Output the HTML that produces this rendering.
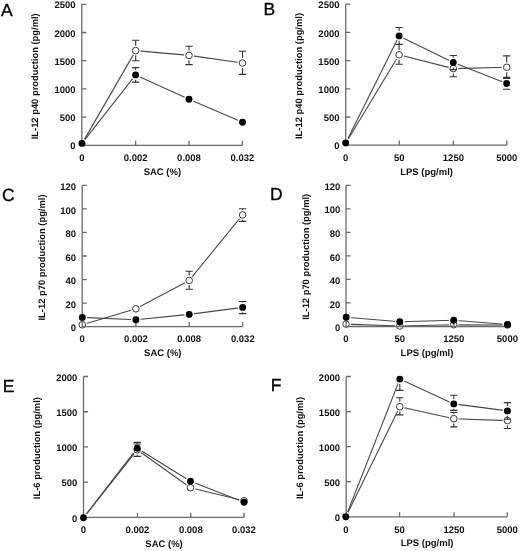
<!DOCTYPE html>
<html><head><meta charset="utf-8"><title>Figure</title>
<style>
html,body{margin:0;padding:0;background:#fff;}
body{width:520px;height:551px;overflow:hidden;}
svg{display:block;text-rendering:geometricPrecision;will-change:transform;}
.ax{fill:none;stroke:#6a6a6a;stroke-width:1.3;}
.ln{fill:none;stroke:#484848;stroke-width:1.1;stroke-linejoin:round;}
.eb{fill:none;stroke:#333;stroke-width:1.1;}
.halo{fill:#fff;stroke:none;}
.op{fill:#fff;stroke:#383838;stroke-width:1.0;}
.fi{fill:#000;stroke:none;}
.tl{font-family:"Liberation Sans",sans-serif;font-weight:bold;font-size:9.5px;fill:#111;}
.yt{font-family:"Liberation Sans",sans-serif;font-weight:bold;font-size:9.4px;fill:#111;}
.pl{font-family:"Liberation Sans",sans-serif;font-size:17.5px;fill:#000;stroke:#000;stroke-width:0.35px;}
</style></head>
<body>
<svg width="520" height="551" viewBox="0 0 520 551">
<g>
<text x="75.6" y="149.4" class="tl" text-anchor="end">0</text>
<text x="75.6" y="121.2" class="tl" text-anchor="end">500</text>
<text x="75.6" y="93" class="tl" text-anchor="end">1000</text>
<text x="75.6" y="64.8" class="tl" text-anchor="end">1500</text>
<text x="75.6" y="36.6" class="tl" text-anchor="end">2000</text>
<text x="75.6" y="8.4" class="tl" text-anchor="end">2500</text>
<text x="81.8" y="161" class="tl" text-anchor="middle">0</text>
<text x="135.6" y="161" class="tl" text-anchor="middle">0.002</text>
<text x="189" y="161" class="tl" text-anchor="middle">0.008</text>
<text x="242.4" y="161" class="tl" text-anchor="middle">0.032</text>
<text x="162.4" y="174.9" class="tl" text-anchor="middle">SAC (%)</text>
<text transform="translate(37.7 76.3) rotate(-90)" class="yt" text-anchor="middle">IL-12 p40 production (pg/ml)</text>
<text x="1" y="15.6" class="pl">A</text>
<path d="M82 143.6 L135.7 50.6 L189 55.4 L242.5 63" class="ln"/>
<path d="M82 143.4 L135.6 74.9 L189 99.3 L242.5 122.3" class="ln"/>
<circle cx="82" cy="143.6" r="4.9" class="halo"/>
<circle cx="135.7" cy="50.6" r="4.9" class="halo"/>
<circle cx="189" cy="55.4" r="4.9" class="halo"/>
<circle cx="242.5" cy="63" r="4.9" class="halo"/>
<circle cx="82" cy="143.4" r="4.9" class="halo"/>
<circle cx="135.6" cy="74.9" r="4.9" class="halo"/>
<circle cx="189" cy="99.3" r="4.9" class="halo"/>
<circle cx="242.5" cy="122.3" r="4.9" class="halo"/>
<circle cx="135.7" cy="50.6" r="3.3" class="op"/>
<circle cx="189" cy="55.4" r="3.3" class="op"/>
<circle cx="242.5" cy="63" r="3.3" class="op"/>
<path d="M81.8 4.3V145.3H242.4" class="ax"/>
<path d="M81.8 117.1h4.6M81.8 88.9h4.6M81.8 60.7h4.6M81.8 32.5h4.6M81.8 4.3h4.6M135.6 145.3v-4.6M189 145.3v-4.6M242.4 145.3v-4.6" class="ax"/>
<path d="M135.7 40.2V45.7M135.7 55.5V60.7M132.05 40.2h7.3M132.05 60.7h7.3M189 46.2V50.5M189 60.3V64.6M185.35 46.2h7.3M185.35 64.6h7.3M242.5 51.3V58.1M242.5 67.9V74.4M238.85 51.3h7.3M238.85 74.4h7.3M135.6 67.6V70M135.6 79.8V82.1M131.95 67.6h7.3M131.95 82.1h7.3" class="eb"/>
<circle cx="82" cy="143.4" r="3.45" class="fi"/>
<circle cx="135.6" cy="74.9" r="3.45" class="fi"/>
<circle cx="189" cy="99.3" r="3.45" class="fi"/>
<circle cx="242.5" cy="122.3" r="3.45" class="fi"/>
</g>
<g>
<text x="339.5" y="149.3" class="tl" text-anchor="end">0</text>
<text x="339.5" y="121.1" class="tl" text-anchor="end">500</text>
<text x="339.5" y="92.9" class="tl" text-anchor="end">1000</text>
<text x="339.5" y="64.7" class="tl" text-anchor="end">1500</text>
<text x="339.5" y="36.5" class="tl" text-anchor="end">2000</text>
<text x="339.5" y="8.3" class="tl" text-anchor="end">2500</text>
<text x="345.7" y="160.9" class="tl" text-anchor="middle">0</text>
<text x="399.3" y="160.9" class="tl" text-anchor="middle">50</text>
<text x="453.4" y="160.9" class="tl" text-anchor="middle">1250</text>
<text x="506.8" y="160.9" class="tl" text-anchor="middle">5000</text>
<text x="426.55" y="174.8" class="tl" text-anchor="middle">LPS (pg/ml)</text>
<text transform="translate(301.8 76) rotate(-90)" class="yt" text-anchor="middle">IL-12 p40 production (pg/ml)</text>
<text x="263.5" y="15.2" class="pl">B</text>
<path d="M345.7 143.3 L399.1 54.8 L453.3 68.6 L506.7 67.3" class="ln"/>
<path d="M345.7 142.9 L399.1 35.9 L453.3 62.5 L506.7 83.5" class="ln"/>
<circle cx="345.7" cy="143.3" r="4.9" class="halo"/>
<circle cx="399.1" cy="54.8" r="4.9" class="halo"/>
<circle cx="453.3" cy="68.6" r="4.9" class="halo"/>
<circle cx="506.7" cy="67.3" r="4.9" class="halo"/>
<circle cx="345.7" cy="142.9" r="4.9" class="halo"/>
<circle cx="399.1" cy="35.9" r="4.9" class="halo"/>
<circle cx="453.3" cy="62.5" r="4.9" class="halo"/>
<circle cx="506.7" cy="83.5" r="4.9" class="halo"/>
<circle cx="399.1" cy="54.8" r="3.3" class="op"/>
<circle cx="453.3" cy="68.6" r="3.3" class="op"/>
<circle cx="506.7" cy="67.3" r="3.3" class="op"/>
<path d="M345.7 4.2V145.2H506.8" class="ax"/>
<path d="M345.7 117h4.6M345.7 88.8h4.6M345.7 60.6h4.6M345.7 32.4h4.6M345.7 4.2h4.6M399.3 145.2v-4.6M453.4 145.2v-4.6M506.8 145.2v-4.6" class="ax"/>
<path d="M399.1 44.4V49.9M399.1 59.7V64.3M395.45 44.4h7.3M395.45 64.3h7.3M453.3 73.5V76.7M449.65 76.7h7.3M506.7 55.9V62.4M506.7 72.2V78.5M503.05 55.9h7.3M503.05 78.5h7.3M399.1 27.5V31M399.1 40.8V44.4M395.45 27.5h7.3M395.45 44.4h7.3M453.3 55.5V57.6M453.3 67.4V69.6M449.65 55.5h7.3M449.65 69.6h7.3M506.7 77.4V78.6M506.7 88.4V89.2M503.05 77.4h7.3M503.05 89.2h7.3" class="eb"/>
<circle cx="345.7" cy="142.9" r="3.45" class="fi"/>
<circle cx="399.1" cy="35.9" r="3.45" class="fi"/>
<circle cx="453.3" cy="62.5" r="3.45" class="fi"/>
<circle cx="506.7" cy="83.5" r="3.45" class="fi"/>
</g>
<g>
<text x="76" y="331.2" class="tl" text-anchor="end">0</text>
<text x="76" y="307.67" class="tl" text-anchor="end">20</text>
<text x="76" y="284.13" class="tl" text-anchor="end">40</text>
<text x="76" y="260.6" class="tl" text-anchor="end">60</text>
<text x="76" y="237.07" class="tl" text-anchor="end">80</text>
<text x="76" y="213.53" class="tl" text-anchor="end">100</text>
<text x="76" y="190" class="tl" text-anchor="end">120</text>
<text x="82.2" y="342.3" class="tl" text-anchor="middle">0</text>
<text x="135.9" y="342.3" class="tl" text-anchor="middle">0.002</text>
<text x="189.2" y="342.3" class="tl" text-anchor="middle">0.008</text>
<text x="242.8" y="342.3" class="tl" text-anchor="middle">0.032</text>
<text x="162.8" y="356.2" class="tl" text-anchor="middle">SAC (%)</text>
<text transform="translate(44.9 257.5) rotate(-90)" class="yt" text-anchor="middle">IL-12 p70 production (pg/ml)</text>
<text x="2" y="201.2" class="pl">C</text>
<path d="M82.3 324.8 L135.9 308.8 L189.2 280.4 L242.6 214.9" class="ln"/>
<path d="M82.3 317.4 L135.9 319.8 L189.2 314.4 L242.7 307.4" class="ln"/>
<circle cx="82.3" cy="324.8" r="4.9" class="halo"/>
<circle cx="135.9" cy="308.8" r="4.9" class="halo"/>
<circle cx="189.2" cy="280.4" r="4.9" class="halo"/>
<circle cx="242.6" cy="214.9" r="4.9" class="halo"/>
<circle cx="82.3" cy="317.4" r="4.9" class="halo"/>
<circle cx="135.9" cy="319.8" r="4.9" class="halo"/>
<circle cx="189.2" cy="314.4" r="4.9" class="halo"/>
<circle cx="242.7" cy="307.4" r="4.9" class="halo"/>
<circle cx="82.3" cy="324.8" r="3.3" class="op"/>
<circle cx="135.9" cy="308.8" r="3.3" class="op"/>
<circle cx="189.2" cy="280.4" r="3.3" class="op"/>
<circle cx="242.6" cy="214.9" r="3.3" class="op"/>
<path d="M82.2 185.4V326.6H242.8" class="ax"/>
<path d="M82.2 303.07h4.6M82.2 279.53h4.6M82.2 256h4.6M82.2 232.47h4.6M82.2 208.93h4.6M82.2 185.4h4.6M135.9 326.6v-4.6M189.2 326.6v-4.6M242.8 326.6v-4.6" class="ax"/>
<path d="M189.2 271.3V275.5M189.2 285.3V289.3M185.55 271.3h7.3M185.55 289.3h7.3M242.6 208.7V210M242.6 219.8V221.4M238.95 208.7h7.3M238.95 221.4h7.3M242.7 301.5V302.5M242.7 312.3V313.6M239.05 301.5h7.3M239.05 313.6h7.3" class="eb"/>
<circle cx="82.3" cy="317.4" r="3.45" class="fi"/>
<circle cx="135.9" cy="319.8" r="3.45" class="fi"/>
<circle cx="189.2" cy="314.4" r="3.45" class="fi"/>
<circle cx="242.7" cy="307.4" r="3.45" class="fi"/>
</g>
<g>
<text x="340.4" y="331.1" class="tl" text-anchor="end">0</text>
<text x="340.4" y="307.57" class="tl" text-anchor="end">20</text>
<text x="340.4" y="284.03" class="tl" text-anchor="end">40</text>
<text x="340.4" y="260.5" class="tl" text-anchor="end">60</text>
<text x="340.4" y="236.97" class="tl" text-anchor="end">80</text>
<text x="340.4" y="213.43" class="tl" text-anchor="end">100</text>
<text x="340.4" y="189.9" class="tl" text-anchor="end">120</text>
<text x="346" y="342.2" class="tl" text-anchor="middle">0</text>
<text x="399.8" y="342.2" class="tl" text-anchor="middle">50</text>
<text x="453.7" y="342.2" class="tl" text-anchor="middle">1250</text>
<text x="507.4" y="342.2" class="tl" text-anchor="middle">5000</text>
<text x="427" y="356.1" class="tl" text-anchor="middle">LPS (pg/ml)</text>
<text transform="translate(309 256.8) rotate(-90)" class="yt" text-anchor="middle">IL-12 p70 production (pg/ml)</text>
<text x="270" y="200.3" class="pl">D</text>
<path d="M346 324.1 L399.8 326 L453.7 324.7 L507.5 325" class="ln"/>
<path d="M346.2 317.2 L399.8 321.8 L453.7 320.2 L507.5 324.5" class="ln"/>
<circle cx="346" cy="324.1" r="4.9" class="halo"/>
<circle cx="399.8" cy="326" r="4.9" class="halo"/>
<circle cx="453.7" cy="324.7" r="4.9" class="halo"/>
<circle cx="507.5" cy="325" r="4.9" class="halo"/>
<circle cx="346.2" cy="317.2" r="4.9" class="halo"/>
<circle cx="399.8" cy="321.8" r="4.9" class="halo"/>
<circle cx="453.7" cy="320.2" r="4.9" class="halo"/>
<circle cx="507.5" cy="324.5" r="4.9" class="halo"/>
<circle cx="346" cy="324.1" r="3.3" class="op"/>
<circle cx="399.8" cy="326" r="3.3" class="op"/>
<circle cx="453.7" cy="324.7" r="3.3" class="op"/>
<circle cx="507.5" cy="325" r="3.3" class="op"/>
<path d="M346 185.3V326.5H507.4" class="ax"/>
<path d="M346 302.97h4.6M346 279.43h4.6M346 255.9h4.6M346 232.37h4.6M346 208.83h4.6M346 185.3h4.6M399.8 326.5v-4.6M453.7 326.5v-4.6M507.4 326.5v-4.6" class="ax"/>
<circle cx="346.2" cy="317.2" r="3.45" class="fi"/>
<circle cx="399.8" cy="321.8" r="3.45" class="fi"/>
<circle cx="453.7" cy="320.2" r="3.45" class="fi"/>
<circle cx="507.5" cy="324.5" r="3.45" class="fi"/>
</g>
<g>
<text x="77.3" y="521.5" class="tl" text-anchor="end">0</text>
<text x="77.3" y="486.27" class="tl" text-anchor="end">500</text>
<text x="77.3" y="451.05" class="tl" text-anchor="end">1000</text>
<text x="77.3" y="415.83" class="tl" text-anchor="end">1500</text>
<text x="77.3" y="380.6" class="tl" text-anchor="end">2000</text>
<text x="83.5" y="533.1" class="tl" text-anchor="middle">0</text>
<text x="137.5" y="533.1" class="tl" text-anchor="middle">0.002</text>
<text x="190.8" y="533.1" class="tl" text-anchor="middle">0.008</text>
<text x="244" y="533.1" class="tl" text-anchor="middle">0.032</text>
<text x="164.05" y="547" class="tl" text-anchor="middle">SAC (%)</text>
<text transform="translate(39.7 448.1) rotate(-90)" class="yt" text-anchor="middle">IL-6 production (pg/ml)</text>
<text x="2.7" y="391.6" class="pl">E</text>
<path d="M83.5 517.9 L137.2 449.8 L190.5 487.7 L244 500.8" class="ln"/>
<path d="M83.5 517.7 L137.2 448.2 L190.5 481.3 L244.1 502.3" class="ln"/>
<circle cx="83.5" cy="517.9" r="4.9" class="halo"/>
<circle cx="137.2" cy="449.8" r="4.9" class="halo"/>
<circle cx="190.5" cy="487.7" r="4.9" class="halo"/>
<circle cx="244" cy="500.8" r="4.9" class="halo"/>
<circle cx="83.5" cy="517.7" r="4.9" class="halo"/>
<circle cx="137.2" cy="448.2" r="4.9" class="halo"/>
<circle cx="190.5" cy="481.3" r="4.9" class="halo"/>
<circle cx="244.1" cy="502.3" r="4.9" class="halo"/>
<circle cx="137.2" cy="449.8" r="3.3" class="op"/>
<circle cx="190.5" cy="487.7" r="3.3" class="op"/>
<circle cx="244" cy="500.8" r="3.3" class="op"/>
<path d="M83.5 376.5V517.4H244" class="ax"/>
<path d="M83.5 482.17h4.6M83.5 446.95h4.6M83.5 411.73h4.6M83.5 376.5h4.6M137.5 517.4v-4.6M190.8 517.4v-4.6M244 517.4v-4.6" class="ax"/>
<path d="M137.2 444V444.9M137.2 454.7V456.4M133.55 444h7.3M133.55 456.4h7.3M137.2 442.4V443.3M133.55 442.4h7.3" class="eb"/>
<circle cx="83.5" cy="517.7" r="3.45" class="fi"/>
<circle cx="137.2" cy="448.2" r="3.45" class="fi"/>
<circle cx="190.5" cy="481.3" r="3.45" class="fi"/>
<circle cx="244.1" cy="502.3" r="3.45" class="fi"/>
</g>
<g>
<text x="340" y="520.9" class="tl" text-anchor="end">0</text>
<text x="340" y="485.82" class="tl" text-anchor="end">500</text>
<text x="340" y="450.75" class="tl" text-anchor="end">1000</text>
<text x="340" y="415.68" class="tl" text-anchor="end">1500</text>
<text x="340" y="380.6" class="tl" text-anchor="end">2000</text>
<text x="345.9" y="532.5" class="tl" text-anchor="middle">0</text>
<text x="399.6" y="532.5" class="tl" text-anchor="middle">50</text>
<text x="454" y="532.5" class="tl" text-anchor="middle">1250</text>
<text x="507.3" y="532.5" class="tl" text-anchor="middle">5000</text>
<text x="427.05" y="546.4" class="tl" text-anchor="middle">LPS (pg/ml)</text>
<text transform="translate(302.6 448) rotate(-90)" class="yt" text-anchor="middle">IL-6 production (pg/ml)</text>
<text x="270.8" y="391.4" class="pl">F</text>
<path d="M345.8 516.9 L399.8 406.7 L453.8 418.7 L507.4 420.6" class="ln"/>
<path d="M345.8 516.7 L399.8 379.1 L453.8 403.9 L507.4 410.9" class="ln"/>
<circle cx="345.8" cy="516.9" r="4.9" class="halo"/>
<circle cx="399.8" cy="406.7" r="4.9" class="halo"/>
<circle cx="453.8" cy="418.7" r="4.9" class="halo"/>
<circle cx="507.4" cy="420.6" r="4.9" class="halo"/>
<circle cx="345.8" cy="516.7" r="4.9" class="halo"/>
<circle cx="399.8" cy="379.1" r="4.9" class="halo"/>
<circle cx="453.8" cy="403.9" r="4.9" class="halo"/>
<circle cx="507.4" cy="410.9" r="4.9" class="halo"/>
<circle cx="399.8" cy="406.7" r="3.3" class="op"/>
<circle cx="453.8" cy="418.7" r="3.3" class="op"/>
<circle cx="507.4" cy="420.6" r="3.3" class="op"/>
<path d="M346.2 376.5V516.8H507.3" class="ax"/>
<path d="M346.2 481.72h4.6M346.2 446.65h4.6M346.2 411.57h4.6M346.2 376.5h4.6M399.6 516.8v-4.6M454 516.8v-4.6M507.3 516.8v-4.6" class="ax"/>
<path d="M399.8 397.7V401.8M399.8 411.6V414.9M396.15 397.7h7.3M396.15 414.9h7.3M453.8 412.5V413.8M453.8 423.6V426.9M450.15 412.5h7.3M450.15 426.9h7.3M507.4 425.5V428.5M503.75 428.5h7.3M399.8 384V390.4M396.15 390.4h7.3M453.8 395.2V399M453.8 408.8V410.4M450.15 395.2h7.3M450.15 410.4h7.3M507.4 402.6V406M507.4 415.8V419.3M503.75 402.6h7.3M503.75 419.3h7.3" class="eb"/>
<circle cx="345.8" cy="516.7" r="3.45" class="fi"/>
<circle cx="399.8" cy="379.1" r="3.45" class="fi"/>
<circle cx="453.8" cy="403.9" r="3.45" class="fi"/>
<circle cx="507.4" cy="410.9" r="3.45" class="fi"/>
</g>
</svg>
</body></html>
